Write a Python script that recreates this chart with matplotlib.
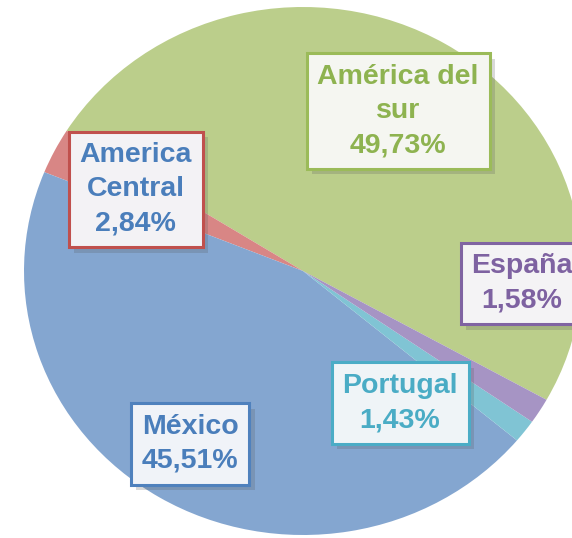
import matplotlib
matplotlib.use("Agg")
import matplotlib.pyplot as plt
import matplotlib.patheffects as pe

# slices in counter-clockwise order, starting at the green/purple seam
regions = ["América del sur", "America Central", "México", "Portugal", "España"]
shares = [49.73, 2.84, 45.51, 1.43, 1.58]
label_text = ["América del\nsur", "America\nCentral", "México", "Portugal", "España"]

fill_colors = ["#BBCE8B", "#D88685", "#84A6D0", "#80C4D4", "#A694C4"]
edge_colors = ["#9BBB59", "#C0504D", "#4F81BD", "#4BACC6", "#8064A2"]
font_colors = ["#8EB350", "#4A7EBB", "#4A7EBB", "#4AACC5", "#7E62A1"]
box_fill = ["#F5F6F1", "#F3F2F5", "#F0F3F8", "#EFF4F7", "#F4F3F5"]
label_pos = [(0.341, 0.606), (-0.600, 0.309), (-0.405, -0.655), (0.348, -0.50), (0.785, -0.047)]

fig = plt.figure(figsize=(5.72, 5.38), dpi=100)
ax = fig.add_axes([0, 0, 1, 1])
ax.pie(shares, colors=fill_colors, startangle=-29.2, counterclock=True,
       wedgeprops=dict(linewidth=0))
ax.set_aspect("auto")
ax.set_xlim(-303 / 279, 269 / 279)
ax.set_ylim(-267 / 264, 271 / 264)
ax.axis("off")

for i in range(len(regions)):
    pct = "{:.2f}%".format(shares[i]).replace(".", ",")
    t = ax.text(label_pos[i][0], label_pos[i][1], label_text[i] + "\n" + pct,
                ha="center", va="center", multialignment="center",
                fontsize=20.5, fontweight="bold", family="Liberation Sans",
                color=font_colors[i], linespacing=1.4,
                bbox=dict(boxstyle="square,pad=0.38", fc=box_fill[i],
                          ec=edge_colors[i], lw=2.2))
    t.get_bbox_patch().set_path_effects([
        pe.SimplePatchShadow(offset=(4, -4), alpha=0.22, shadow_rgbFace="#555555"),
        pe.Normal()])

fig.savefig("out.png", dpi=100)
